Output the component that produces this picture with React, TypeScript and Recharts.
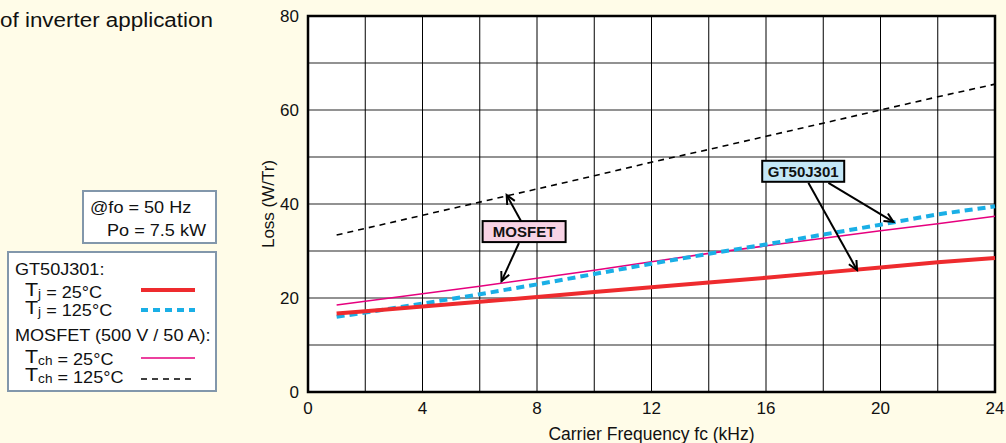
import React from "react"
import {
  LineChart,
  Line,
  XAxis,
  YAxis,
  CartesianGrid,
  ReferenceArea,
  ReferenceLine,
  ReferenceDot,
} from "recharts"

// carrier frequency (kHz)
const freq = [1, 2, 4, 6, 8, 10, 12, 14, 16, 18, 20, 22, 24]
// loss (W/Tr)
const igbt25 = [16.7, 17.2, 18.2, 19.2, 20.2, 21.3, 22.3, 23.3, 24.3, 25.4, 26.5, 27.6, 28.5]
const igbt125 = [16.0, 16.9, 18.8, 20.8, 22.9, 25.1, 27.3, 29.4, 31.4, 33.5, 35.6, 37.8, 39.5]
const mos25 = [18.5, 19.3, 20.9, 22.5, 24.2, 25.9, 27.7, 29.5, 31.1, 32.7, 34.3, 35.8, 37.4]
const mos125 = [33.4, 34.8, 37.6, 40.4, 43.2, 46.0, 48.9, 51.6, 54.4, 57.2, 60.0, 62.8, 65.5]

const xTicks = [0, 2, 4, 6, 8, 10, 12, 14, 16, 18, 20, 22, 24]
const yTicks = [0, 10, 20, 30, 40, 50, 60, 70, 80]

const data = freq.map((f, i) => ({
  f,
  igbt25: igbt25[i],
  igbt125: igbt125[i],
  mos25: mos25[i],
  mos125: mos125[i],
}))

const FONT = "'Liberation Sans', Arial, Helvetica, sans-serif"
const BG = "#FFFCE8"
const RED = "#EE2B2E"
const BLUE = "#1AAFE6"
const PINK = "#E6007E"

const XTick = (props: any) => {
  const { x, y, payload } = props
  if (payload.value % 4 !== 0) return null
  return (
    <text x={x} y={y + 2} dy="0.71em" textAnchor="middle" fontSize={17} fontFamily={FONT} fill="#111">
      {payload.value}
    </text>
  )
}

const YTick = (props: any) => {
  const { x, y, payload } = props
  if (payload.value % 20 !== 0) return null
  return (
    <text x={x - 1} y={y} dy="0.355em" textAnchor="end" fontSize={17} fontFamily={FONT} fill="#111">
      {payload.value}
    </text>
  )
}

const Arrow = (props: any) => {
  const { x1, y1, x2, y2 } = props
  const a = Math.atan2(y2 - y1, x2 - x1)
  const len = 10
  const spread = 0.45
  const p1 = [x2 - len * Math.cos(a - spread), y2 - len * Math.sin(a - spread)]
  const p2 = [x2 - len * Math.cos(a + spread), y2 - len * Math.sin(a + spread)]
  return (
    <g stroke="#000" strokeWidth={2} fill="none">
      <line x1={x1} y1={y1} x2={x2} y2={y2} />
      <polyline points={`${p1[0]},${p1[1]} ${x2},${y2} ${p2[0]},${p2[1]}`} />
    </g>
  )
}

const tagBox = (text: string, fill: string, w: number) => (props: any) => {
  const { cx, cy } = props
  return (
    <g>
      <rect x={cx - w / 2} y={cy - 10.5} width={w} height={21} fill={fill} stroke="#000" strokeWidth={2} />
      <text
        x={cx}
        y={cy}
        dy="0.36em"
        textAnchor="middle"
        fontSize={15}
        fontWeight="bold"
        fontFamily={FONT}
        fill="#111"
      >
        {text}
      </text>
    </g>
  )
}

const legendText: React.CSSProperties = {
  position: "absolute",
  fontSize: 16,
  lineHeight: "16px",
  whiteSpace: "nowrap",
  transform: "scaleX(1.13)",
  transformOrigin: "left center",
  color: "#111",
}

const TRow = ({ sub, rest, top }: { sub: string; rest: string; top: number }) => (
  <div style={{ ...legendText, left: 25, top, height: 17, lineHeight: "17px" }}>
    <span style={{ fontSize: 19, display: "inline-block", height: 17, lineHeight: "17px" }}>T</span>
    <span style={{ fontSize: 12, position: "relative", top: 2 }}>{sub}</span>
    <span style={{ position: "relative", top: 2 }}>{rest}</span>
  </div>
)

const Sample = ({ top, color, width, dash }: { top: number; color: string; width: number; dash?: string }) => (
  <svg style={{ position: "absolute", left: 141, top: top - 4 }} width={56} height={8}>
    <line x1={0} y1={4} x2={54} y2={4} stroke={color} strokeWidth={width} strokeDasharray={dash} />
  </svg>
)

export default function App() {
  return (
    <div
      style={{
        position: "absolute",
        left: 0,
        top: 0,
        width: 1006,
        height: 443,
        background: BG,
        fontFamily: FONT,
        overflow: "hidden",
      }}
    >
      <div style={{ ...legendText, left: 0, top: 10, fontSize: 20, lineHeight: "20px", transform: "scaleX(1.12)" }}>
        of inverter application
      </div>

      <div
        style={{
          position: "absolute",
          left: 82,
          top: 190,
          width: 131,
          height: 50,
          border: "2px solid #8297AB",
          background: "#fff",
        }}
      />
      <div style={{ ...legendText, left: 90, top: 200 }}>@fo = 50 Hz</div>
      <div style={{ ...legendText, left: 107, top: 223 }}>Po = 7.5 kW</div>

      <div
        style={{
          position: "absolute",
          left: 7,
          top: 251,
          width: 206,
          height: 137,
          border: "2px solid #8297AB",
          background: "#fff",
        }}
      />
      <div style={{ ...legendText, left: 15, top: 262 }}>GT50J301:</div>
      <TRow sub="j" rest=" = 25°C" top={281} />
      <TRow sub="j" rest=" = 125°C" top={299} />
      <div style={{ ...legendText, left: 15, top: 328 }}>MOSFET (500 V / 50 A):</div>
      <TRow sub="ch" rest=" = 25°C" top={348} />
      <TRow sub="ch" rest=" = 125°C" top={366} />
      <Sample top={290} color={RED} width={4} />
      <Sample top={310} color={BLUE} width={4} dash="7 5" />
      <Sample top={358} color={PINK} width={1.5} />
      <Sample top={379} color="#000" width={1.5} dash="6 5" />

      <div style={{ position: "absolute", left: 0, top: 0 }}>
        <LineChart
          width={1006}
          height={443}
          data={data}
          margin={{ top: 16, right: 11, bottom: 0, left: 0 }}
        >
          <CartesianGrid vertical={false} stroke="#6E6E6E" strokeWidth={1.5} fill="#fff" />
          <CartesianGrid horizontal={false} stroke="#000" strokeWidth={1} />
          <XAxis
            dataKey="f"
            type="number"
            domain={[0, 24]}
            ticks={xTicks}
            interval={0}
            tickLine={false}
            axisLine={false}
            height={51}
            tick={<XTick />}
            label={{
              content: (p: any) => (
                <text
                  x={p.viewBox.x + p.viewBox.width / 2}
                  y={434}
                  dy="0.36em"
                  textAnchor="middle"
                  fontSize={17.5}
                  fontFamily={FONT}
                  fill="#111"
                >
                  Carrier Frequency fc (kHz)
                </text>
              ),
            }}
          />
          <YAxis
            type="number"
            domain={[0, 80]}
            ticks={yTicks}
            interval={0}
            tickLine={false}
            axisLine={false}
            width={308}
            tick={<YTick />}
            label={{
              content: () => (
                <text
                  transform="translate(268,204) rotate(-90)"
                  dy="0.36em"
                  textAnchor="middle"
                  fontSize={17}
                  fontFamily={FONT}
                  fill="#111"
                >
                  Loss (W/Tr)
                </text>
              ),
            }}
          />
          <Line
            dataKey="mos125"
            stroke="#000"
            strokeWidth={1.6}
            strokeDasharray="6 5"
            dot={false}
            isAnimationActive={false}
          />
          <Line dataKey="mos25" stroke={PINK} strokeWidth={1.6} dot={false} isAnimationActive={false} />
          <Line
            dataKey="igbt125"
            stroke={BLUE}
            strokeWidth={4}
            strokeDasharray="8 5"
            dot={false}
            isAnimationActive={false}
          />
          <Line dataKey="igbt25" stroke={RED} strokeWidth={4} dot={false} isAnimationActive={false} />
          <ReferenceArea x1={0} x2={24} y1={0} y2={80} fill="none" stroke="#000" strokeWidth={2.5} />
          <ReferenceLine segment={[{ x: 7.44, y: 36.4 }, { x: 6.94, y: 41.9 }]} shape={<Arrow />} />
          <ReferenceLine segment={[{ x: 7.37, y: 31.7 }, { x: 6.76, y: 23.6 }]} shape={<Arrow />} />
          <ReferenceLine segment={[{ x: 18.18, y: 44.5 }, { x: 20.45, y: 36.2 }]} shape={<Arrow />} />
          <ReferenceLine segment={[{ x: 17.48, y: 44.5 }, { x: 19.18, y: 25.96 }]} shape={<Arrow />} />
          <ReferenceDot x={7.55} y={34.13} shape={tagBox("MOSFET", "#F8D3E5", 83)} />
          <ReferenceDot x={17.3} y={46.96} shape={tagBox("GT50J301", "#C4E7F7", 82)} />
        </LineChart>
      </div>
    </div>
  )
}
